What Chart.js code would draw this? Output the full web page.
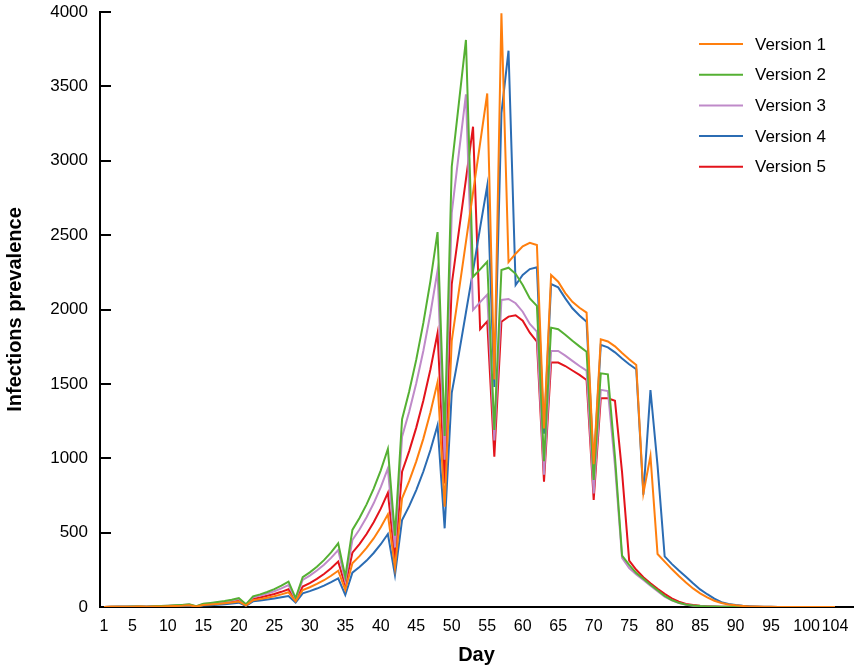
<!DOCTYPE html>
<html>
<head>
<meta charset="utf-8">
<script src="https://cdn.jsdelivr.net/npm/chart.js@4.4.1/dist/chart.umd.min.js"></script>
<style>
  html, body { margin: 0; padding: 0; background: #ffffff; }
  #wrap { position: relative; width: 859px; height: 668px; }
</style>
</head>
<body>
<div id="wrap"><canvas id="c" width="859" height="668"></canvas></div>
<script>
const days = Array.from({ length: 104 }, (_, i) => i + 1);
const xTickLabels = [1, 5, 10, 15, 20, 25, 30, 35, 40, 45, 50, 55, 60, 65, 70, 75, 80, 85, 90, 95, 100, 104];
const yTickLabels = [0, 500, 1000, 1500, 2000, 2500, 3000, 3500, 4000];
const seriesNames = ['Version 1', 'Version 2', 'Version 3', 'Version 4', 'Version 5'];

const version1 = [
  0, 1, 1, 1, 2, 3, 1, 3, 4, 5, 7, 8, 11, 3,
  13, 16, 20, 25, 30, 37, 10,
  45, 53, 62, 72, 85, 99, 38,
  114, 133, 155, 180, 210, 244, 115,
  294, 342, 397, 461, 536, 623, 265,
  731, 846, 979, 1132, 1310, 1512, 675,
  1790, 2122, 2454, 2786, 3118, 3452, 1530,
  3991, 2318, 2375, 2425, 2448, 2434, 1200,
  2232, 2187, 2110, 2052, 2012, 1979, 960,
  1800, 1785, 1752, 1707, 1665, 1627, 764,
  1015, 356, 305, 255, 208, 165, 125,
  92, 65, 42, 27, 17, 11, 7,
  4, 3, 2, 1, 0, 0, 0,
  0, 0, 0, 0, 0, 0
];
const version2 = [
  0, 1, 2, 2, 3, 4, 1, 5, 7, 9, 11, 14, 18, 5,
  22, 27, 33, 40, 49, 60, 18,
  72, 85, 101, 120, 143, 170, 60,
  200, 233, 271, 315, 367, 428, 204,
  518, 598, 690, 796, 919, 1062, 480,
  1262, 1449, 1663, 1910, 2193, 2520, 1150,
  2960, 3385, 3812, 2220, 2270, 2321, 1190,
  2266, 2281, 2240, 2165, 2075, 2024, 980,
  1878, 1867, 1830, 1790, 1752, 1716, 854,
  1571, 1564, 1010, 345, 283, 228, 190,
  150, 112, 75, 47, 28, 16, 10,
  6, 4, 3, 2, 1, 1, 0,
  0, 0, 0, 0, 0, 0, 0,
  0, 0, 0, 0, 0, 0
];
const version3 = [
  0, 1, 1, 2, 3, 4, 1, 5, 6, 8, 10, 13, 16, 4,
  20, 24, 30, 36, 44, 54, 15,
  65, 77, 90, 106, 125, 148, 52,
  182, 211, 245, 284, 330, 383, 175,
  450, 521, 603, 697, 806, 932, 400,
  1145, 1312, 1504, 1723, 1975, 2262, 990,
  2650, 3050, 3447, 1997, 2050, 2100, 1120,
  2064, 2071, 2042, 1985, 1903, 1851, 890,
  1721, 1721, 1690, 1655, 1620, 1589, 764,
  1460, 1452, 950, 330, 262, 218, 182,
  143, 106, 70, 44, 26, 15, 9,
  6, 4, 3, 2, 1, 1, 0,
  0, 0, 0, 0, 0, 0, 0,
  0, 0, 0, 0, 0, 0
];
const version4 = [
  0, 0, 1, 1, 2, 2, 1, 3, 3, 4, 5, 7, 9, 3,
  10, 12, 15, 19, 24, 29, 8,
  38, 43, 50, 57, 65, 74, 30,
  92, 107, 124, 144, 167, 193, 81,
  231, 269, 312, 363, 422, 491, 215,
  585, 678, 786, 911, 1055, 1222, 529,
  1440, 1700, 1980, 2260, 2550, 2832, 1480,
  3320, 3740, 2165, 2232, 2272, 2284, 1165,
  2171, 2149, 2075, 2008, 1960, 1918, 940,
  1762, 1745, 1712, 1670, 1632, 1598, 755,
  1459, 950, 340, 290, 245, 204, 160,
  118, 86, 56, 32, 20, 13, 8,
  5, 3, 2, 1, 0, 0, 0,
  0, 0, 0, 0, 0, 0
];
const version5 = [
  0, 1, 1, 2, 2, 3, 1, 4, 5, 7, 8, 10, 13, 4,
  16, 20, 24, 30, 37, 45, 12,
  55, 64, 75, 87, 102, 119, 45,
  137, 161, 189, 222, 260, 305, 145,
  365, 423, 491, 570, 661, 768, 320,
  910, 1048, 1206, 1388, 1598, 1842, 830,
  2170, 2525, 2875, 3229, 1867, 1920, 1011,
  1918, 1952, 1961, 1925, 1844, 1784, 842,
  1643, 1643, 1620, 1590, 1560, 1526, 719,
  1403, 1403, 1387, 905, 312, 250, 200,
  160, 122, 88, 58, 36, 21, 13,
  8, 5, 3, 2, 1, 1, 0,
  0, 0, 0, 0, 0, 0, 0,
  0, 0, 0, 0, 0, 0
];

const colors = ['#FF7F0E', '#55B033', '#BF8AC9', '#2B6CB3', '#E3131B'];
const allSeries = [version1, version2, version3, version4, version5];

const FONT = "'Liberation Sans', Arial, sans-serif";

const innerTicksAndLegend = {
  id: 'innerTicksAndLegend',
  afterDraw(chart) {
    const ctx = chart.ctx;
    const y = chart.scales.y;
    const area = chart.chartArea;
    ctx.save();
    ctx.strokeStyle = '#000';
    ctx.lineWidth = 2;
    yTickLabels.forEach(v => {
      if (v === 0) return;
      const py = Math.round(y.getPixelForValue(v));
      ctx.beginPath();
      ctx.moveTo(area.left, py);
      ctx.lineTo(area.left + 11, py);
      ctx.stroke();
    });
    // legend
    ctx.font = "17px " + FONT;
    ctx.textBaseline = 'middle';
    ctx.textAlign = 'left';
    chart.data.datasets.forEach((ds, i) => {
      const ly = 44 + i * 30.7;
      ctx.strokeStyle = ds.borderColor;
      ctx.lineWidth = 2;
      ctx.beginPath();
      ctx.moveTo(699, ly);
      ctx.lineTo(743, ly);
      ctx.stroke();
      ctx.fillStyle = '#000';
      ctx.fillText(ds.label, 755, ly + 1);
    });
    ctx.restore();
  }
};

new Chart(document.getElementById('c'), {
  type: 'line',
  data: {
    labels: days,
    datasets: seriesNames.map((name, i) => ({
      label: name,
      data: allSeries[i],
      borderColor: colors[i],
      backgroundColor: colors[i],
      borderWidth: 2,
      pointRadius: 0,
      tension: 0,
      fill: false
    }))
  },
  options: {
    responsive: false,
    animation: false,
    devicePixelRatio: 1,
    layout: { padding: { top: 12, right: 6, bottom: 0, left: 0 } },
    plugins: {
      legend: { display: false },
      tooltip: { enabled: false }
    },
    scales: {
      x: {
        type: 'linear',
        min: 0.436,
        max: 106.54,
        afterBuildTicks(scale) {
          scale.ticks = xTickLabels.map(v => ({ value: v }));
        },
        afterFit(scale) { scale.height = 61; scale.paddingLeft = 0; scale.paddingRight = 0; },
        grid: { display: false, drawTicks: false },
        border: { display: true, color: '#000', width: 2 },
        ticks: {
          autoSkip: false,
          maxRotation: 0,
          padding: 10,
          color: '#000',
          font: { family: FONT, size: 16 },
          callback: (v) => String(v)
        },
        title: {
          display: true,
          text: 'Day',
          color: '#000',
          font: { family: FONT, size: 20, weight: 'bold' },
          padding: { top: 0, bottom: 1 }
        }
      },
      y: {
        min: 0,
        max: 4000,
        afterBuildTicks(scale) {
          scale.ticks = yTickLabels.map(v => ({ value: v }));
        },
        afterFit(scale) { scale.width = 100; scale.paddingTop = 0; scale.paddingBottom = 0; },
        grid: { display: false, drawTicks: false },
        border: { display: true, color: '#000', width: 2 },
        ticks: {
          padding: 12,
          color: '#000',
          font: { family: FONT, size: 17 },
          callback: (v) => String(v)
        },
        title: {
          display: true,
          text: 'Infections prevalence',
          color: '#000',
          font: { family: FONT, size: 20, weight: 'bold' },
          padding: { top: 3, bottom: 0 }
        }
      }
    }
  },
  plugins: [innerTicksAndLegend]
});
</script>
</body>
</html>
